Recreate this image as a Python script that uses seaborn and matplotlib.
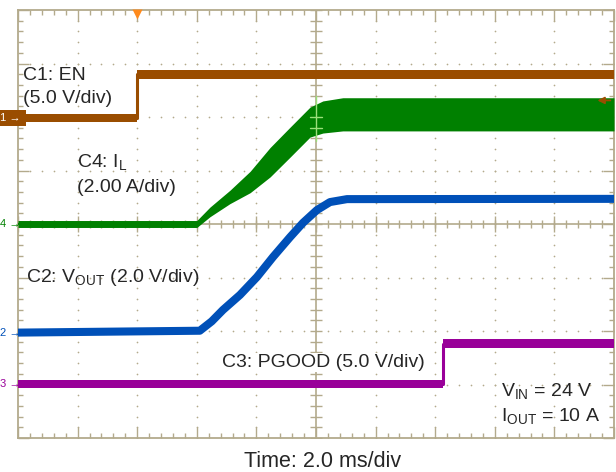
import numpy as np
import pandas as pd
import seaborn as sns
import matplotlib.pyplot as plt

# scope capture, 2.0 ms/div, 10 x 8 divisions
# C1: EN (5.0 V/div)
en_t = [0.0, 4.0, 4.0, 20.0]
en_v = [0.0, 0.0, 4.1, 4.1]

# C4: IL (2.00 A/div), centre of the band and half the ripple
il_t = [0.0, 6.0, 6.44, 7.11, 7.79, 8.46, 9.13, 9.80, 10.23, 10.9, 20.0]
il_a = [0.0, 0.0, 0.45, 1.01, 1.57, 2.31, 3.06, 3.81, 4.0, 4.1, 4.1]
il_ripple = [0.13, 0.13, 0.18, 0.25, 0.40, 0.55, 0.56, 0.56, 0.60, 0.62, 0.62]

# C2: VOUT (2.0 V/div)
vout_t = [0.0, 6.1, 6.5, 6.88, 7.45, 8.02, 8.56, 9.13, 9.56, 10.03, 10.47, 11.04, 20.0]
vout_v = [0.0, 0.07, 0.42, 0.85, 1.41, 2.08, 2.83, 3.57, 4.10, 4.58, 4.88, 4.99, 5.0]

# C3: PGOOD (5.0 V/div)
pg_t = [0.0, 14.26, 14.26, 20.0]
pg_v = [0.0, 0.0, 3.75, 3.75]

# (units per div, ground offset in div)
SCALE = {"en": (5.0, 1.98), "il": (2.0, 0.0), "vout": (2.0, -2.03), "pg": (5.0, -2.99)}
COL = {"en": "#9a4d00", "il": "#008000", "vout": "#0050b8", "pg": "#990099"}
FRAME = "#b3aa8c"


def to_div(vals, ch):
    s, off = SCALE[ch]
    return np.asarray(vals) / s + off


sns.set_style("white")
plt.rcParams["font.family"] = ["Liberation Sans", "DejaVu Sans"]
plt.rcParams["mathtext.fontset"] = "custom"
plt.rcParams["mathtext.rm"] = "Liberation Sans"
plt.rcParams["mathtext.it"] = "Liberation Sans"

fig = plt.figure(figsize=(6.16, 4.72), dpi=100)
ax = fig.add_axes([18 / 616, 34 / 472, 596 / 616, 428 / 472])
ax.set_xlim(0, 20)
ax.set_ylim(-4, 4)

# graticule
for s in ax.spines.values():
    s.set_color(FRAME)
    s.set_linewidth(1.3)
ax.set_xticks(np.arange(0, 21, 2))
ax.set_xticks(np.arange(0, 20.01, 0.4), minor=True)
ax.set_yticks(np.arange(-4, 5, 1))
ax.set_yticks(np.arange(-4, 4.01, 0.2), minor=True)
ax.tick_params(which="both", direction="in", top=True, right=True, bottom=True, left=True,
               labelbottom=False, labelleft=False, color=FRAME, width=1)
ax.tick_params(which="major", length=8)
ax.tick_params(which="minor", length=3.5)

gx = [x for x in range(2, 20, 2) if x != 10]
gy = [y for y in range(-3, 4) if y != 0]
dy = np.arange(-4, 4.01, 0.2)
dx = np.arange(0, 20.01, 0.4)
for x in gx:
    ax.scatter(np.full_like(dy, x), dy, s=1.5, color=FRAME, lw=0, zorder=1)
for y in gy:
    ax.scatter(dx, np.full_like(dx, y), s=1.5, color=FRAME, lw=0, zorder=1)
ax.axvline(10, color=FRAME, lw=1.2, zorder=1)
ax.axhline(0, color=FRAME, lw=1.2, zorder=1)
ax.plot(np.full_like(dy, 10), dy, ls="none", marker="_", ms=8.5, mew=1, color=FRAME, zorder=1)
ax.plot(dx, np.zeros_like(dx), ls="none", marker="|", ms=6, mew=1, color=FRAME, zorder=1)
ax.plot(np.arange(0, 21, 2), np.zeros(11), ls="none", marker="|", ms=12, mew=1, color=FRAME, zorder=1)

# traces
band = 0.082
for ch, t, v in [("en", en_t, en_v), ("pg", pg_t, pg_v)]:
    y = to_div(v, ch)
    ax.fill_between(t, y - band, y + band, color=COL[ch], lw=0, zorder=3)
    sns.lineplot(x=t, y=y, ax=ax, color=COL[ch], lw=2.2, estimator=None, sort=False, zorder=3)

il_c = to_div(il_a, "il")
il_h = np.asarray(il_ripple) / SCALE["il"][0]
ax.fill_between(il_t, il_c - il_h, il_c + il_h, color=COL["il"], lw=0, zorder=3)
sns.lineplot(x=il_t, y=il_c, ax=ax, color=COL["il"], lw=1.5, estimator=None, sort=False, zorder=3)
# graticule shows through the current band in a lighter green
ax.plot([10, 10], [1.55, 2.4], color="#9be07a", lw=1, zorder=4)
ax.plot([9.8, 10.2], [2.0, 2.0], color="#9be07a", lw=1, zorder=4)
ax.plot([9.8, 10.2], [1.8, 1.8], color="#9be07a", lw=1, zorder=4)

sns.lineplot(x=vout_t, y=to_div(vout_v, "vout"), ax=ax, color=COL["vout"], lw=5.8,
             estimator=None, sort=False, zorder=3)

# channel ground markers
for ch, lab in [("en", "1"), ("il", "4"), ("vout", "2"), ("pg", "3")]:
    y0 = SCALE[ch][1]
    if ch == "en":
        ax.text(-0.62, y0, lab + " \u2192 ", color="white", fontsize=8, va="center", ha="left",
                clip_on=False, zorder=7,
                bbox=dict(boxstyle="square,pad=0.3", fc=COL[ch], ec="none"))
    else:
        ax.text(-0.62, y0, lab + " \u2192", color=COL[ch], fontsize=8, va="center", ha="left",
                clip_on=False, zorder=7)

# trigger marker and level arrow
ax.plot([4.0], [3.93], marker="v", ms=7, color="#ff8a1c", mec="none", clip_on=False, zorder=5)
ax.annotate("", xy=(19.35, 2.31), xytext=(19.97, 2.31),
            arrowprops=dict(arrowstyle="-|>", color=COL["en"], lw=1.3, mutation_scale=10),
            zorder=5)

# labels
fs = 14
ax.text(0.17, 2.69, "C1: EN", fontsize=fs, va="baseline", zorder=6)
ax.text(0.17, 2.26, "(5.0 V/div)", fontsize=fs, va="baseline", zorder=6)
ax.text(1.98, 1.06, "C4: I$_\\mathrm{L}$", fontsize=fs, va="baseline", zorder=6)
ax.text(1.98, 0.60, "(2.00 A/div)", fontsize=fs, va="baseline", zorder=6)
ax.text(0.27, -1.08, "C2: V$_\\mathrm{OUT}$ (2.0 V/div)", fontsize=fs, va="baseline", zorder=6)
ax.text(6.85, -2.67, "C3: PGOOD (5.0 V/div)", fontsize=fs, va="baseline", zorder=6,
        bbox=dict(boxstyle="square,pad=0.05", fc="white", ec="none"))
ax.text(16.2, -3.21, "V$_\\mathrm{IN}$ = 24 V", fontsize=fs, va="baseline", zorder=6)
ax.text(16.2, -3.68, "I$_\\mathrm{OUT}$ = 10 A", fontsize=fs, va="baseline", zorder=6)
fig.text(0.523, 0.011, "Time: 2.0 ms/div", fontsize=15.5, ha="center", va="baseline")

fig.savefig("out.png", dpi=100)
